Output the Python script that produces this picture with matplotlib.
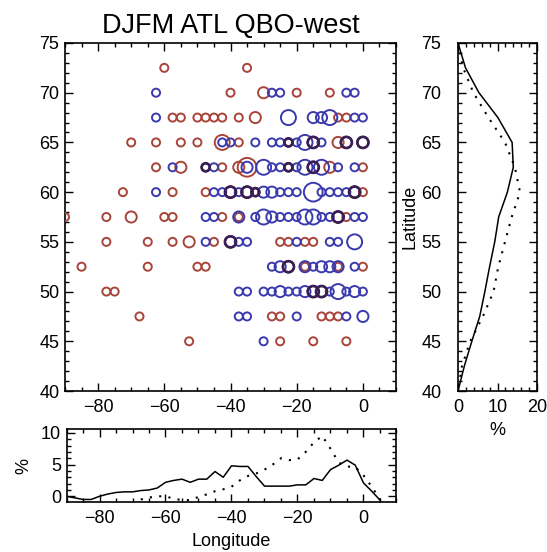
import numpy as np
import matplotlib
matplotlib.use("Agg")
import matplotlib.pyplot as plt
from matplotlib.ticker import MultipleLocator

plt.rcParams['font.family'] = ['Liberation Sans', 'DejaVu Sans']

# ---------------- data ----------------
# circles: (longitude, latitude, size class)
red_lon = [-60, -35,
           -40, -30, -20, -10,
           -57.5, -55, -50, -47.5, -45, -42.5, -37.5, -32.5, -7.5, -5,
           -70, -62.5, -55, -50, -42.5, -37.5, -22.5, -15, -7.5, -5, 0,
           -62.5, -55, -47.5, -42.5, -37.5, -35, -22.5, -15, -10, 0,
           -72.5, -57.5, -47.5, -40, -35, -32.5, -2.5, 0,
           -90, -77.5, -70, -60, -57.5, -42.5, -37.5, -7.5, -5,
           -77.5, -65, -57.5, -52.5, -45, -40, -25, -22.5, -17.5, -15,
           -85, -65, -50, -47.5, -22.5, -17.5, -7.5, 0,
           -77.5, -75, -15, -12.5,
           -67.5, -27.5, -25, -12.5, -10, -7.5,
           -52.5, -25, -15, -5]
red_lat = [72.5, 72.5,
           70, 70, 70, 70,
           67.5, 67.5, 67.5, 67.5, 67.5, 67.5, 67.5, 67.5, 67.5, 67.5,
           65, 65, 65, 65, 65, 65, 65, 65, 65, 65, 65,
           62.5, 62.5, 62.5, 62.5, 62.5, 62.5, 62.5, 62.5, 62.5, 62.5,
           60, 60, 60, 60, 60, 60, 60, 60,
           57.5, 57.5, 57.5, 57.5, 57.5, 57.5, 57.5, 57.5, 57.5,
           55, 55, 55, 55, 55, 55, 55, 55, 55, 55,
           52.5, 52.5, 52.5, 52.5, 52.5, 52.5, 52.5, 52.5,
           50, 50, 50, 50,
           47.5, 47.5, 47.5, 47.5, 47.5, 47.5,
           45, 45, 45, 45]
red_n = [1, 1,
         1, 2, 1, 1,
         1, 1, 1, 1, 1, 1, 1, 2, 1, 1,
         1, 1, 1, 1, 3, 1, 1, 2, 2, 2, 2,
         1, 2, 1, 1, 2, 4, 1, 2, 2, 1,
         1, 1, 1, 2, 2, 1, 2, 1,
         1, 1, 2, 1, 1, 1, 1, 2, 1,
         1, 1, 1, 2, 1, 2, 1, 1, 1, 1,
         1, 1, 1, 1, 2, 1, 1, 1,
         1, 1, 2, 2,
         1, 1, 1, 1, 1, 1,
         1, 1, 1, 1]

blue_lon = [-62.5, -27.5, -25, -5, -2.5,
            -62.5, -22.5, -15, -12.5, -10, -2.5, 0,
            -42.5, -40, -32.5, -27.5, -25, -22.5, -20, -17.5, -15, -12.5, -5, 0,
            -57.5, -47.5, -45, -35, -30, -27.5, -25, -22.5, -20, -17.5, -15, -12.5, -7.5, -2.5,
            -62.5, -45, -42.5, -40, -37.5, -35, -32.5, -30, -27.5, -25, -22.5, -20, -15,
            -12.5, -10, -7.5, -5, -2.5,
            -47.5, -45, -37.5, -32.5, -30, -27.5, -25, -22.5, -20, -17.5, -15, -12.5, -10,
            -7.5, -2.5, 0,
            -47.5, -40, -37.5, -35, -20, -10, -7.5, -2.5,
            -27.5, -25, -22.5, -17.5, -15, -12.5, -10, -7.5, -2.5,
            -37.5, -35, -30, -27.5, -25, -22.5, -20, -17.5, -15, -12.5, -10, -7.5, -5, -2.5, 0,
            -37.5, -35, -20, -5, 0,
            -30]
blue_lat = [70, 70, 70, 70, 70,
            67.5, 67.5, 67.5, 67.5, 67.5, 67.5, 67.5,
            65, 65, 65, 65, 65, 65, 65, 65, 65, 65, 65, 65,
            62.5, 62.5, 62.5, 62.5, 62.5, 62.5, 62.5, 62.5, 62.5, 62.5, 62.5, 62.5, 62.5, 62.5,
            60, 60, 60, 60, 60, 60, 60, 60, 60, 60, 60, 60, 60,
            60, 60, 60, 60, 60,
            57.5, 57.5, 57.5, 57.5, 57.5, 57.5, 57.5, 57.5, 57.5, 57.5, 57.5, 57.5, 57.5,
            57.5, 57.5, 57.5,
            55, 55, 55, 55, 55, 55, 55, 55,
            52.5, 52.5, 52.5, 52.5, 52.5, 52.5, 52.5, 52.5, 52.5,
            50, 50, 50, 50, 50, 50, 50, 50, 50, 50, 50, 50, 50, 50, 50,
            47.5, 47.5, 47.5, 47.5, 47.5,
            45]
blue_n = [1, 1, 1, 1, 1,
          1, 3, 2, 2, 3, 1, 1,
          1, 1, 1, 1, 1, 1, 1, 3, 2, 1, 2, 2,
          1, 1, 1, 2, 3, 1, 1, 1, 1, 3, 2, 3, 1, 1,
          1, 1, 1, 2, 1, 2, 1, 2, 2, 1, 1, 1, 4,
          1, 1, 1, 1, 2,
          1, 1, 2, 1, 3, 2, 1, 1, 1, 3, 3, 1, 1,
          2, 1, 1,
          1, 2, 1, 1, 1, 1, 1, 3,
          1, 2, 2, 2, 1, 2, 2, 2, 1,
          1, 1, 1, 1, 2, 1, 1, 2, 2, 2, 1, 3, 1, 2, 1,
          1, 1, 1, 1, 2,
          1]

# latitude distribution (%)
lat_grid = [75, 72.5, 70, 67.5, 65, 62.5, 60, 57.5, 55, 52.5, 50, 47.5, 45, 42.5, 40]
lat_solid = [0, 1.9, 5.3, 10.1, 13.7, 14.0, 12.5, 10.3, 9.3, 8.0, 6.8, 5.5, 3.5, 1.6, 0]
lat_dotted = [0, 1.3, 3.9, 7.7, 11.9, 14.4, 15.7, 13.6, 11.9, 10.2, 9.0, 6.3, 3.1, 1.0, 0]

# longitude distribution (%)
lon_solid_x = [-90, -87.5, -85, -82.5, -80, -77.5, -75, -72.5, -70, -67.5, -65, -62.5,
               -60, -57.5, -55, -52.5, -50, -47.5, -45, -42.5, -40, -37.5, -35, -32.5,
               -30, -27.5, -25, -22.5, -20, -17.5, -15, -12.5, -10, -7.5, -5, -2.5,
               0, 2.5, 5]
lon_solid = [0.0, -0.25, -0.5, -0.5, 0.0, 0.35, 0.6, 0.7, 0.7, 0.9, 1.0, 1.3,
             2.2, 2.5, 2.7, 2.2, 2.7, 2.7, 3.9, 3.0, 4.8, 4.7, 4.7, 3.1,
             1.6, 1.6, 1.6, 1.6, 1.8, 1.8, 2.8, 2.5, 4.2, 4.9, 5.7, 4.9,
             2.1, 0.8, -0.6]
lon_dot_x = [-67.5, -65, -62.5, -60, -57.5, -55, -52.5, -50, -47.5, -45, -42.5, -40,
             -37.5, -35, -32.5, -30, -27.5, -25, -22.5, -20, -17.5, -15, -12.5, -10,
             -7.5, -5, -2.5, 0, 2.5, 5]
lon_dotted = [-0.5, -0.2, 0.0, 0.0, -0.4, -0.6, -0.6, -0.1, 0.3, 0.8, 1.1, 1.5,
              2.5, 3.2, 3.6, 4.2, 5.0, 6.0, 5.7, 5.8, 7.0, 8.5, 9.5, 7.5,
              5.3, 4.7, 4.6, 3.3, 1.5, -0.5]

title = "DJFM ATL QBO-west"
lon_ticks = [-80, -60, -40, -20, 0]
lat_ticks = [40, 45, 50, 55, 60, 65, 70, 75]

# ---------------- style ----------------
RED = '#a8453a'
BLUE = '#3a3aae'
DARK = '#3a1f52'
size_pt = {1: 5.8, 2: 8.0, 3: 10.8, 4: 13.5}
FS = 13

fig = plt.figure(figsize=(5.47, 5.52), dpi=100)
W, H = 547.0, 552.0

def axpix(x0, y0, x1, y1):
    return fig.add_axes([x0 / W, 1 - y1 / H, (x1 - x0) / W, (y1 - y0) / H])

def style(ax, ypad=4):
    ax.tick_params(which='both', direction='in', top=True, right=True,
                   labelsize=FS, width=1.0)
    ax.tick_params(which='major', length=6)
    ax.tick_params(which='minor', length=3)
    ax.tick_params(axis='x', pad=6)
    ax.tick_params(axis='y', pad=ypad)
    for s in ax.spines.values():
        s.set_linewidth(1.2)

# main scatter
ax = axpix(65, 43, 396, 391)
rs = [size_pt[n] ** 2 for n in red_n]
bs = [size_pt[n] ** 2 for n in blue_n]
ax.scatter(red_lon, red_lat, s=rs, facecolors='none', edgecolors=RED, linewidths=1.4, zorder=3)
ax.scatter(blue_lon, blue_lat, s=bs, facecolors='none', edgecolors=BLUE, linewidths=1.4, zorder=4)
# overlapping (both datasets, same size) drawn dark
red_set = {(a, b, c) for a, b, c in zip(red_lon, red_lat, red_n)}
both = [(a, b, c) for a, b, c in zip(blue_lon, blue_lat, blue_n) if (a, b, c) in red_set]
if both:
    ax.scatter([p[0] for p in both], [p[1] for p in both], s=[size_pt[p[2]] ** 2 for p in both],
               facecolors='none', edgecolors=DARK, linewidths=1.9, zorder=5)
ax.set_xlim(-90, 10)
ax.set_ylim(40, 75)
ax.set_xticks(lon_ticks)
ax.set_yticks(lat_ticks)
ax.xaxis.set_minor_locator(MultipleLocator(5))
ax.yaxis.set_minor_locator(MultipleLocator(1))
style(ax)
ax.set_title(title, fontsize=19.5, pad=7)

# right panel: latitude distribution
axr = axpix(458, 43, 537, 391)
axr.plot(lat_solid, lat_grid, color='black', lw=1.1)
axr.plot(lat_dotted, lat_grid, color='black', lw=1.5, linestyle=(0, (1, 3.5)))
axr.set_xlim(0, 20)
axr.set_ylim(40, 75)
axr.set_xticks([0, 10, 20])
axr.set_yticks(lat_ticks)
axr.xaxis.set_minor_locator(MultipleLocator(2))
axr.yaxis.set_minor_locator(MultipleLocator(1))
style(axr, ypad=12)
axr.set_xlabel('%', fontsize=FS, labelpad=4)
axr.set_ylabel('Latitude', fontsize=FS, labelpad=2)

# bottom panel: longitude distribution
axb = axpix(66.5, 429, 396.5, 502)
axb.plot(lon_solid_x, lon_solid, color='black', lw=1.1)
axb.plot(lon_dot_x, lon_dotted, color='black', lw=1.5, linestyle=(0, (1, 3.5)))
axb.set_xlim(-90, 10)
axb.set_ylim(-0.9, 10.6)
axb.set_xticks(lon_ticks)
axb.set_yticks([0, 5, 10])
axb.xaxis.set_minor_locator(MultipleLocator(5))
axb.yaxis.set_minor_locator(MultipleLocator(1))
style(axb)
axb.set_xlabel('Longitude', fontsize=FS, labelpad=4)
axb.set_ylabel('%', fontsize=FS, labelpad=6)

fig.savefig('out.png', dpi=100)
